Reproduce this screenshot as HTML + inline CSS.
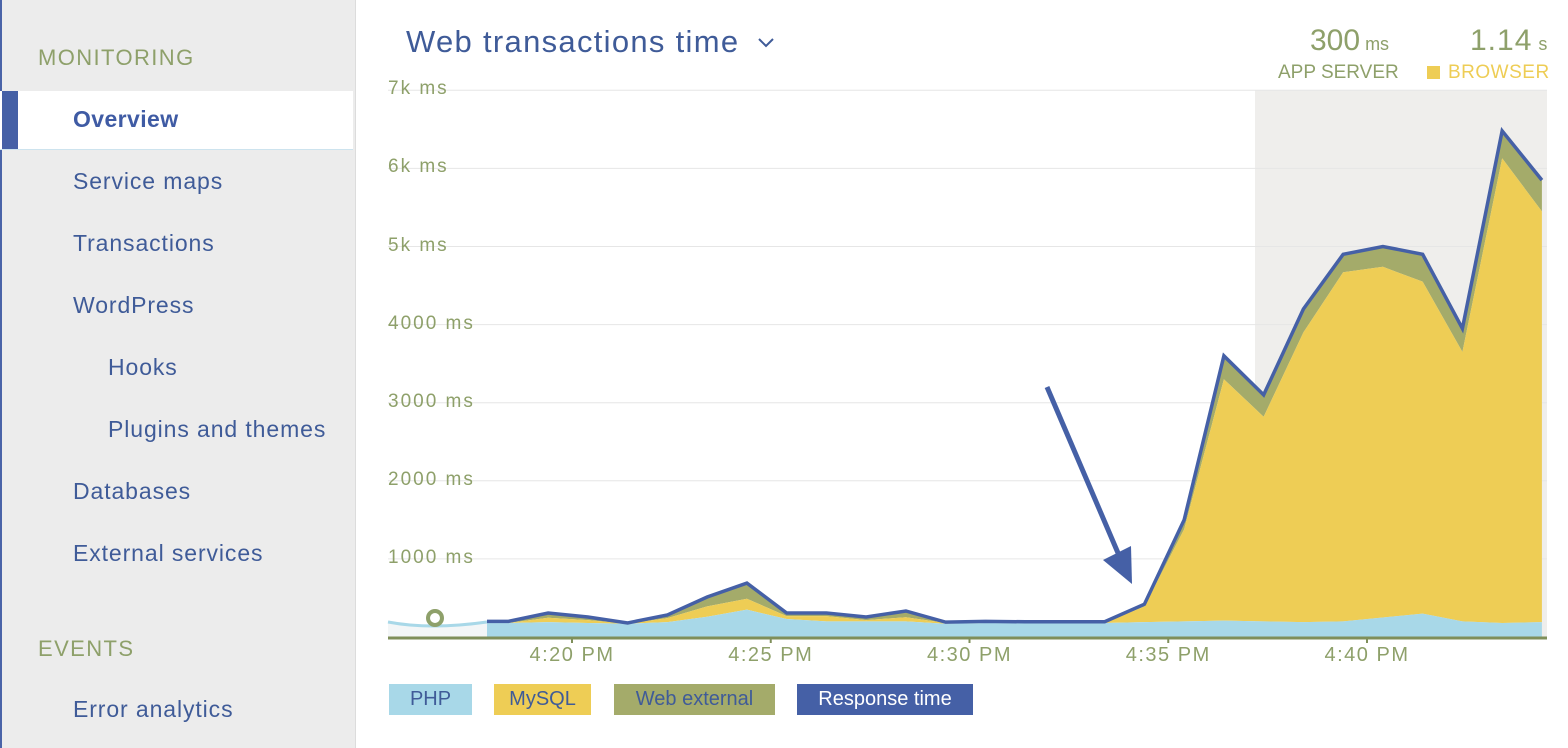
<!DOCTYPE html>
<html><head><meta charset="utf-8"><style>
body{margin:0;width:1568px;height:748px;overflow:hidden;background:#fff;font-family:"Liberation Sans",sans-serif;position:relative}
.sb{position:absolute;left:0;top:0;width:353px;height:748px;background:#ececec;border-right:1px solid #dcdcdc;border-left:2px solid #4a64a8}
.it{position:absolute;font-size:23px;color:#3f5b98;white-space:nowrap;letter-spacing:0.9px}
.hd{position:absolute;font-size:22px;color:#8ea06a;left:38px;letter-spacing:1.4px}
.sel{position:absolute;left:0;top:91px;width:353px;height:58px;background:#fff;border-bottom:1px solid #cde3ee}
.bar{position:absolute;left:2px;top:91px;width:16px;height:58px;background:#4560a6}
.yl{position:absolute;left:388px;font-size:19px;color:#8ea06a;letter-spacing:2px}
.xl{position:absolute;top:644px;font-size:20px;color:#8ea06a;width:120px;text-align:center;letter-spacing:1.5px}
.lg{position:absolute;top:684px;height:31px;line-height:31px;font-size:20px;text-align:center;color:#3f5b98}
</style></head><body>
<div class="sb"></div>
<div class="hd" style="top:45px">MONITORING</div>
<div class="sel"></div>
<div class="bar"></div>
<div class="it" style="left:73px;top:106px;font-weight:bold;color:#3f5ba4;letter-spacing:0.4px">Overview</div>
<div class="it" style="left:73px;top:168px">Service maps</div>
<div class="it" style="left:73px;top:230px">Transactions</div>
<div class="it" style="left:73px;top:292px">WordPress</div>
<div class="it" style="left:108px;top:354px">Hooks</div>
<div class="it" style="left:108px;top:416px">Plugins and themes</div>
<div class="it" style="left:73px;top:478px">Databases</div>
<div class="it" style="left:73px;top:540px">External services</div>
<div class="hd" style="top:636px">EVENTS</div>
<div class="it" style="left:73px;top:696px">Error analytics</div>

<div style="position:absolute;left:406px;top:24px;font-size:31px;color:#3f5b98;letter-spacing:1.3px;white-space:nowrap">Web transactions time</div>
<svg style="position:absolute;left:757px;top:36px" width="18" height="12"><path d="M2 3 L9 10 L16 3" stroke="#3f5b98" stroke-width="2" fill="none"/></svg>
<div style="position:absolute;left:1310px;top:24px;font-size:30px;color:#8ea06a;white-space:nowrap">300<span style="font-size:18px"> ms</span></div>
<div style="position:absolute;left:1278px;top:62px;font-size:19px;color:#8ea06a">APP SERVER</div>
<div style="position:absolute;left:1470px;top:24px;font-size:30px;color:#8ea06a;white-space:nowrap;letter-spacing:1px">1.14<span style="font-size:18px"> s</span></div>
<div style="position:absolute;left:1427px;top:66px;width:13px;height:13px;background:#eecd55"></div>
<div style="position:absolute;left:1448px;top:62px;font-size:19px;color:#eecd55;letter-spacing:0.5px">BROWSER</div>

<svg id="chart" style="position:absolute;left:0;top:0" width="1568" height="748"></svg>
<div id="labels"></div>

<div class="lg" style="left:389px;width:83px;background:#a8d8e8">PHP</div>
<div class="lg" style="left:494px;width:97px;background:#eecd55">MySQL</div>
<div class="lg" style="left:614px;width:161px;background:#a4ab6a">Web external</div>
<div class="lg" style="left:797px;width:176px;background:#4560a6;color:#fff">Response time</div>

<script>
const times=[18.4,19.4,20.4,21.4,22.4,23.4,24.4,25.4,26.4,27.4,28.4,29.4,30.4,31.4,32.4,33.4,34.4,35.4,36.4,37.4,38.4,39.4,40.4,41.4,42.4,43.4,44.4];
const php=[180,190,180,170,190,260,350,230,200,200,200,170,180,180,180,180,190,200,210,200,190,200,250,300,200,180,190];
const mysql=[0,57,36,0,52,132,140,37,67,16,53,10,10,5,5,5,200,1180,3090,2620,3710,4470,4490,4250,3450,5950,5260];
const webext=[20,60,40,10,40,120,200,40,40,40,80,10,10,10,10,10,30,120,300,280,300,230,260,350,300,350,400];
const yTicks=[1000,2000,3000,4000,5000,6000,7000];
const yTickLabels=["1000 ms","2000 ms","3000 ms","4000 ms","5k ms","6k ms","7k ms"];
const xTicks=[20,25,30,35,40];
const xTickLabels=["4:20 PM","4:25 PM","4:30 PM","4:35 PM","4:40 PM"];
const X=t=>572+(t-20)*39.75, Y=v=>637-v*0.0781;
const svg=document.getElementById('chart'),NS='http://www.w3.org/2000/svg';
function el(tag,attrs){const e=document.createElementNS(NS,tag);for(const k in attrs)e.setAttribute(k,attrs[k]);svg.appendChild(e);return e;}
const g=el('rect',{x:1255,y:90,width:292,height:547,fill:'#efeeec'});


const labels=document.getElementById('labels');
yTicks.forEach((v,i)=>{
 const l=el('line',{x1:388,x2:1547,y1:Y(v),y2:Y(v),stroke:'#e6e6e6','stroke-width':1});
 
 
 const d=document.createElement('div');d.className='yl';d.style.top=(Y(v)-12)+'px';d.textContent=yTickLabels[i];
 
 
 labels.appendChild(d);
});
const fd=el('path',{d:'M388 622 Q430 630 487 622 L487 637 L388 637 Z',fill:'#f3f6f7'});


const fl=el('path',{d:'M388 622 Q430 630 487 622',stroke:'#a8d8e8','stroke-width':3,fill:'none'});


const s1=php, s2=php.map((v,i)=>v+mysql[i]), s3=s2.map((v,i)=>v+webext[i]);
function area(top,bot,fill,name){
 let d='M487 '+Y(top[0]);times.forEach((t,i)=>d+=' L'+X(t)+' '+Y(top[i]));
 for(let i=times.length-1;i>=0;i--)d+=' L'+X(times[i])+' '+Y(bot?bot[i]:0);
 d+=' L487 '+Y(bot?bot[0]:0)+' Z';
 const p=el('path',{d,fill});
 
 
}
area(s3,s2,'#a4ab6a','web-external-area');
area(s2,s1,'#eecd55','mysql-area');
area(s1,null,'#a8d8e8','php-area');
let d='M487 '+Y(s3[0]);times.forEach((t,i)=>d+=' L'+X(t)+' '+Y(s3[i]));
const ln=el('path',{d,stroke:'#4560a6','stroke-width':3.5,fill:'none','stroke-linejoin':'miter'});


const ax=el('line',{x1:388,x2:1547,y1:638,y2:638,stroke:'#7f8f5a','stroke-width':3});


xTicks.forEach((t,i)=>{
 const tk=el('line',{x1:X(t),x2:X(t),y1:638,y2:643,stroke:'#7f8f5a','stroke-width':2});
 
 
 const d=document.createElement('div');d.className='xl';d.style.left=(X(t)-60)+'px';d.textContent=xTickLabels[i];
 
 
 labels.appendChild(d);
});
const c=el('circle',{cx:435,cy:618,r:7,fill:'#fff',stroke:'#8ea06a','stroke-width':4});


const ar=el('line',{x1:1047,y1:387,x2:1118,y2:553,stroke:'#4560a6','stroke-width':5});


const ah=el('path',{d:'M1132 584 L1103 560 L1131 546 Z',fill:'#4560a6'});


</script>
</body></html>
